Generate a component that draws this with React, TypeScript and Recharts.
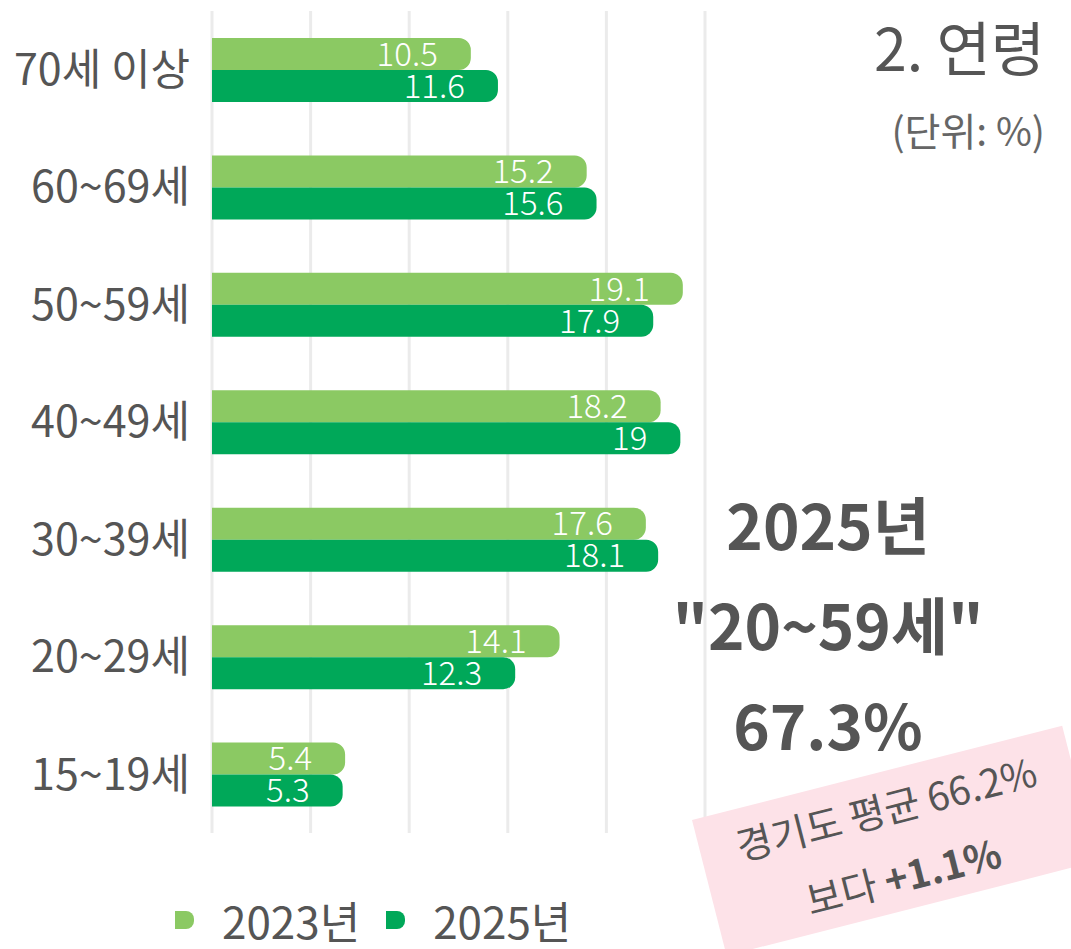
import React from 'react';
import { BarChart, Bar, XAxis, YAxis, CartesianGrid, LabelList, Legend } from 'recharts';

const ageGroups = ['70세 이상', '60~69세', '50~59세', '40~49세', '30~39세', '20~29세', '15~19세'];
const values2023 = [10.5, 15.2, 19.1, 18.2, 17.6, 14.1, 5.4];
const values2025 = [11.6, 15.6, 17.9, 19, 18.1, 12.3, 5.3];
const xTicks = [0, 4, 8, 12, 16, 20];
const seriesNames = ['2023년', '2025년'];
const seriesColors = ['#8BC963', '#00A859'];

const titleText = '2. 연령';
const unitText = '(단위: %)';
const highlightLines = ['2025년', '"20~59세"', '67.3%'];
const noteLine1 = '경기도 평균 66.2%';
const noteLine2a = '보다 ';
const noteLine2b = '+1.1%';

const data = ageGroups.map((age, i) => ({ age, y2023: values2023[i], y2025: values2025[i] }));

const FONT = "'Noto Sans CJK KR', 'Noto Sans', sans-serif";
const TEXT = '#555555';

const LegendContent = () => (
  <div style={{ display: 'flex', alignItems: 'center', fontFamily: FONT, fontSize: 44, color: TEXT, height: 64 }}>
    {seriesNames.map((n, i) => (
      <div key={n} style={{ display: 'flex', alignItems: 'center', marginRight: 26 }}>
        <div style={{ width: 19, height: 18, background: seriesColors[i], borderRadius: '0 8px 8px 0', marginRight: 28 }} />
        <span style={{ lineHeight: '64px', whiteSpace: 'nowrap' }}>{n}</span>
      </div>
    ))}
  </div>
);

export default function App() {
  return (
    <div style={{ position: 'absolute', left: 0, top: 0, width: 1071, height: 949, background: '#ffffff', overflow: 'hidden', fontFamily: FONT }}>
      <BarChart
        width={1071}
        height={949}
        data={data}
        layout="vertical"
        margin={{ top: 11, right: 366, bottom: 52, left: 0 }}
        barGap={0}
        barSize={32}
      >
        <CartesianGrid horizontal={false} stroke="#ebebeb" strokeWidth={3} />
        <XAxis type="number" domain={[0, 20]} ticks={xTicks} hide />
        <YAxis
          type="category"
          dataKey="age"
          width={212}
          axisLine={false}
          tickLine={false}
          tickSize={0}
          tickMargin={22}
          tick={{ fill: TEXT, fontSize: 43, fontFamily: FONT }}
        />
        <Legend
          content={<LegendContent />}
          wrapperStyle={{ left: 175, bottom: -3, width: 420, height: 64, overflow: 'visible' }}
        />
        <Bar dataKey="y2023" name={seriesNames[0]} fill={seriesColors[0]} radius={[0, 12, 12, 0]} isAnimationActive={false}>
          <LabelList dataKey="y2023" position="insideRight" offset={33} fill="#ffffff" fontSize={33} fontWeight={300} fontFamily={FONT} />
        </Bar>
        <Bar dataKey="y2025" name={seriesNames[1]} fill={seriesColors[1]} radius={[0, 12, 12, 0]} isAnimationActive={false}>
          <LabelList dataKey="y2025" position="insideRight" offset={33} fill="#ffffff" fontSize={33} fontWeight={300} fontFamily={FONT} />
        </Bar>
      </BarChart>

      <div style={{ position: 'absolute', right: 26, top: 6, fontSize: 59, color: TEXT, lineHeight: '80px', whiteSpace: 'nowrap' }}>{titleText}</div>
      <div style={{ position: 'absolute', right: 26, top: 104, fontSize: 39, color: '#666', lineHeight: '50px', whiteSpace: 'nowrap' }}>{unitText}</div>

      {highlightLines.map((t, i) => (
        <div key={t} style={{ position: 'absolute', left: 628, width: 400, textAlign: 'center', top: 473 + i * 100, fontSize: 62, fontWeight: 700, color: TEXT, lineHeight: '100px', whiteSpace: 'nowrap' }}>{t}</div>
      ))}

      <div style={{ position: 'absolute', left: 692, top: 820, width: 382, height: 140, background: '#FDE2E8', transform: 'rotate(-14.3deg)', transformOrigin: '0 0', color: TEXT, fontSize: 39, textAlign: 'center' }}>
        <div style={{ lineHeight: '70px', whiteSpace: 'nowrap' }}>{noteLine1}</div>
        <div style={{ lineHeight: '70px', whiteSpace: 'nowrap' }}>{noteLine2a}<b>{noteLine2b}</b></div>
      </div>
    </div>
  );
}
